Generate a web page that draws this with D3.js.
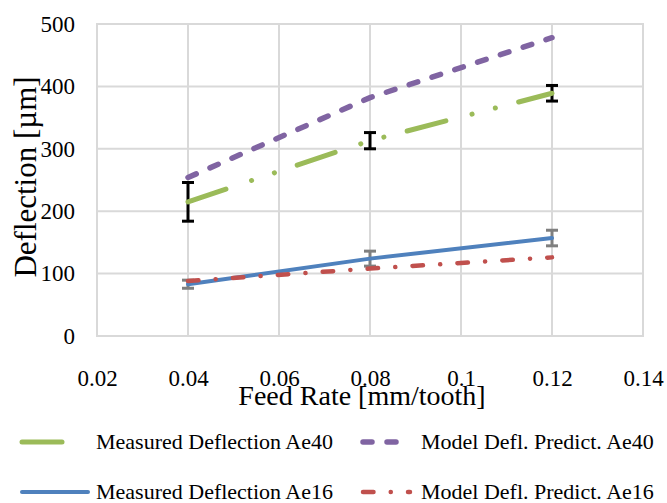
<!DOCTYPE html>
<html>
<head>
<meta charset="utf-8">
<script src="https://cdn.jsdelivr.net/npm/d3@7"></script>
<style>
body{margin:0;background:#fff;}
svg text{font-family:"Liberation Serif","Times New Roman",serif;fill:#000;}
</style>
</head>
<body>
<svg id="chart"></svg>
<script>
//data
var feedRate = [0.04, 0.08, 0.12];
var measuredAe40 = [215, 313, 389];
var measuredAe40Err = [31, 13, 12.5];
var modelAe40 = [254, 382, 478];
var measuredAe16 = [83, 124, 157];
var measuredAe16Err = [6.5, 12, 12.5];
var modelAe16 = [88, 108, 126];
var xTicks = [0.02, 0.04, 0.06, 0.08, 0.1, 0.12, 0.14];
var yTicks = [0, 100, 200, 300, 400, 500];
var legendNames = ['Measured Deflection Ae40', 'Model Defl. Predict. Ae40', 'Measured Deflection Ae16', 'Model Defl. Predict. Ae16'];

/*********D3 chart************/
var width = 667;
var height = 503;
var plot = {left:97, right:643, top:24, bottom:336};
var serif = '"Liberation Serif","Times New Roman",serif';

var svg = d3.select('#chart')
	.attr('width',width)
	.attr('height',height);

var xScale = d3.scaleLinear()
		.domain([0.02,0.14])
		.range([plot.left,plot.right]);
var yScale = d3.scaleLinear()
		.domain([0,500])
		.range([plot.bottom,plot.top]);

//grid (the box edges are grid lines too)
var gridG = svg.append('g');
gridG.selectAll('line.v').data(xTicks).enter().append('line')
	.attr('x1',function(d){return xScale(d);})
	.attr('x2',function(d){return xScale(d);})
	.attr('y1',plot.top).attr('y2',plot.bottom)
	.style('stroke','#d9d9d9').style('stroke-width',2);
gridG.selectAll('line.h').data(yTicks).enter().append('line')
	.attr('y1',function(d){return yScale(d);})
	.attr('y2',function(d){return yScale(d);})
	.attr('x1',plot.left-1).attr('x2',plot.right+1)
	.style('stroke','#d9d9d9').style('stroke-width',2);

//axes, only the labels are kept
var axisX = d3.axisBottom(xScale).tickValues(xTicks).tickSize(0).tickPadding(0)
	.tickFormat(function(d){return String(+d.toFixed(2));});
var axisY = d3.axisLeft(yScale).tickValues(yTicks).tickSize(0).tickPadding(0);
var axisXG = svg.append('g')
	.attr('transform','translate(0,'+(plot.bottom+50)+')')
	.call(axisX);
var axisYG = svg.append('g')
	.attr('transform','translate('+(plot.left-22)+',0)')
	.call(axisY);
[axisXG, axisYG].forEach(function(g){
	g.select('.domain').remove();
	g.attr('font-family',serif).attr('font-size',23);
	g.selectAll('text').attr('fill','#000');
});
axisXG.selectAll('text').attr('dy',0);

//axis titles
svg.append('text')
	.attr('x',(plot.left+plot.right)/2 - 8)
	.attr('y',405)
	.attr('text-anchor','middle')
	.style('font-size','28px')
	.text('Feed Rate [mm/tooth]');
svg.append('text')
	.attr('transform','translate(36,'+((plot.top+plot.bottom)/2-3)+') rotate(-90)')
	.attr('text-anchor','middle')
	.style('font-size','31px')
	.text('Deflection [\u00b5m]');

//series styles
var series = [
	{name:legendNames[0], values:measuredAe40, err:measuredAe40Err, errColor:'#000', color:'#9bbb59', w:5, dash:'40 27 0.1 24 0.1 24'},
	{name:legendNames[1], values:modelAe40, err:null, color:'#8064a2', w:5.5, dash:'9 15'},
	{name:legendNames[2], values:measuredAe16, err:measuredAe16Err, errColor:'#7f7f7f', color:'#4f81bd', w:4, dash:null},
	{name:legendNames[3], values:modelAe16, err:null, color:'#c0504d', w:4.5, dash:'10.5 17.2 0.1 17.2'}
];

var line = d3.line()
	.x(function(d,i){return xScale(feedRate[i]);})
	.y(function(d){return yScale(d);});

var chartG = svg.append('g');
series.forEach(function(s){
	var g = chartG.append('g');
	if(s.err){
		var eb = g.selectAll('g.eb').data(s.values).enter().append('g');
		eb.append('line')
			.attr('x1',function(d,i){return xScale(feedRate[i]);})
			.attr('x2',function(d,i){return xScale(feedRate[i]);})
			.attr('y1',function(d,i){return yScale(d+s.err[i]);})
			.attr('y2',function(d,i){return yScale(d-s.err[i]);});
		[1,-1].forEach(function(sign){
			eb.append('line')
				.attr('x1',function(d,i){return xScale(feedRate[i])-6;})
				.attr('x2',function(d,i){return xScale(feedRate[i])+6;})
				.attr('y1',function(d,i){return yScale(d+sign*s.err[i]);})
				.attr('y2',function(d,i){return yScale(d+sign*s.err[i]);});
		});
		eb.selectAll('line').style('stroke',s.errColor).style('stroke-width',3);
	}
	g.append('path')
		.datum(s.values)
		.attr('d',line)
		.style('fill','none')
		.style('stroke',s.color)
		.style('stroke-width',s.w)
		.style('stroke-linecap','round')
		.style('stroke-dasharray',s.dash);
});

//legend, two rows of two
var legendPos = [[20,442],[361,442],[20,492],[361,492]];
var legendG = svg.append('g');
series.forEach(function(s,i){
	var p = legendPos[i];
	var sampleW = i%2===0 ? 68 : 49;
	legendG.append('line')
		.attr('x1',p[0]+2).attr('x2',p[0]+sampleW)
		.attr('y1',p[1]).attr('y2',p[1])
		.style('stroke',s.color)
		.style('stroke-width',s.w)
		.style('stroke-linecap','round')
		.style('stroke-dasharray',s.dash);
	legendG.append('text')
		.attr('x', i%2===0 ? 96 : 421)
		.attr('y',p[1])
		.attr('dy','0.33em')
		.style('font-size','22px')
		.text(s.name);
});
</script>
</body>
</html>
